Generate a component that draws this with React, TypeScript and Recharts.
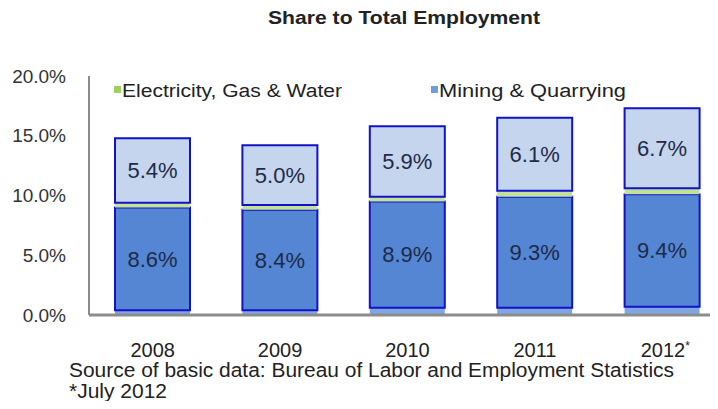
import React from "react";
import { BarChart, Bar, XAxis, YAxis, LabelList } from "recharts";

const years = ["2008", "2009", "2010", "2011", "2012*"];
const mining = [0.4, 0.4, 0.6, 0.6, 0.7];
const manufacturing = [8.6, 8.4, 8.9, 9.3, 9.4];
const electricity = [0.4, 0.4, 0.4, 0.5, 0.5];
const construction = [5.4, 5.0, 5.9, 6.1, 6.7];
const yTicks = [0, 5, 10, 15, 20];

const legendItems = [
  { name: "Electricity, Gas & Water", color: "#9ccf5c", x: 114, w: 220 },
  { name: "Mining & Quarrying", color: "#6f9ee0", x: 431, w: 187 },
];

const data = years.map((year, i) => ({
  year,
  mining: mining[i],
  manufacturing: manufacturing[i],
  electricity: electricity[i],
  construction: construction[i],
}));

const FONT = '"Liberation Sans", Arial, sans-serif';
const NARROW = '"Liberation Sans Narrow", "Liberation Sans", Arial, sans-serif';

const pct = (v: any) => Number(v).toFixed(1) + "%";

function YearTick(props: any) {
  const { x, y, payload } = props;
  const label: string = payload.value;
  const star = label.endsWith("*");
  const base = star ? label.slice(0, -1) : label;
  return (
    <text
      x={x + (star ? 3 : 0)}
      y={y + 42}
      textAnchor="middle"
      fill="#222"
      fontSize={20}
      fontFamily={NARROW}
    >
      {base}
      {star && (
        <tspan fontSize={12} dy={-7}>
          *
        </tspan>
      )}
    </text>
  );
}

export default function App() {
  return (
    <div
      style={{
        margin: -8,
        width: 718,
        height: 409,
        overflow: "hidden",
        position: "relative",
        background: "#fff",
      }}
    >
      <BarChart
        width={726}
        height={409}
        data={data}
        margin={{ top: 76, right: 0, bottom: 54, left: 0 }}
        barSize={75}
      >
        <XAxis
          dataKey="year"
          axisLine={{ stroke: "#8c8c8c", strokeWidth: 3 }}
          tickLine={false}
          tickSize={0}
          tickMargin={0}
          height={40}
          tick={<YearTick />}
          interval={0}
        />
        <YAxis
          domain={[0, 20]}
          ticks={yTicks}
          width={89}
          axisLine={{ stroke: "#8c8c8c", strokeWidth: 2 }}
          tickLine={false}
          tickSize={0}
          tickMargin={23}
          tickFormatter={pct}
          tick={{ fill: "#333", fontSize: 19, fontFamily: FONT }}
        />
        <Bar dataKey="mining" stackId="a" fill="#7ea7e3" isAnimationActive={false} />
        <Bar
          dataKey="manufacturing"
          stackId="a"
          fill="#5486d3"
          stroke="#1212c8"
          strokeWidth={2}
          isAnimationActive={false}
        >
          <LabelList
            dataKey="manufacturing"
            position="center"
            formatter={pct}
            fill="#1e2a48"
            fontSize={22}
            fontFamily={FONT}
          />
        </Bar>
        <Bar dataKey="electricity" stackId="a" fill="#c2e29c" isAnimationActive={false} />
        <Bar
          dataKey="construction"
          stackId="a"
          fill="#c5d5ee"
          stroke="#1212c8"
          strokeWidth={2}
          isAnimationActive={false}
        >
          <LabelList
            dataKey="construction"
            position="center"
            formatter={pct}
            fill="#1e2a48"
            fontSize={22}
            fontFamily={FONT}
          />
        </Bar>
      </BarChart>
      <svg
        width={718}
        height={409}
        style={{ position: "absolute", left: 0, top: 0, pointerEvents: "none" }}
      >
        <text
          x={268}
          y={24}
          fontSize={18}
          fontWeight="bold"
          fontFamily={NARROW}
          fill="#222"
          textLength={272}
          lengthAdjust="spacingAndGlyphs"
        >
          Share to Total Employment
        </text>
        {legendItems.map((it) => (
          <g key={it.name}>
            <rect x={it.x} y={86} width={7} height={7} fill={it.color} />
            <text
              x={it.x + 8}
              y={97}
              fontSize={18}
              fontFamily={NARROW}
              fill="#222"
              textLength={it.w}
              lengthAdjust="spacingAndGlyphs"
            >
              {it.name}
            </text>
          </g>
        ))}
        <text
          x={69}
          y={377}
          fontSize={20}
          fontFamily={NARROW}
          fill="#222"
          textLength={605}
          lengthAdjust="spacingAndGlyphs"
        >
          Source of basic data: Bureau of Labor and Employment Statistics
        </text>
        <text
          x={69}
          y={398}
          fontSize={20}
          fontFamily={NARROW}
          fill="#222"
          textLength={98}
          lengthAdjust="spacingAndGlyphs"
        >
          *July 2012
        </text>
      </svg>
    </div>
  );
}
